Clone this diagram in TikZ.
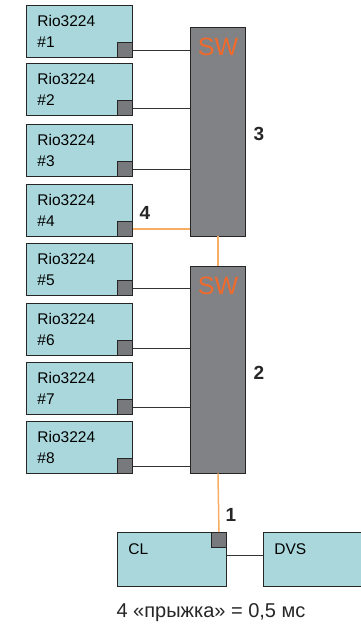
\documentclass[tikz,border=0pt]{standalone}
\usepackage{fontspec}
\setmainfont{Liberation Sans}
\usepackage{xcolor}
\usetikzlibrary{positioning,calc}

\definecolor{boxteal}{HTML}{AAD7DB}
\definecolor{swgray}{HTML}{808285}
\definecolor{portgray}{HTML}{77797C}
\definecolor{hoporange}{HTML}{F8AD64}
\definecolor{swtext}{HTML}{F26A2B}

\tikzset{
  unit/.style={draw=black!85, fill=boxteal, line width=0.9pt, minimum width=106pt, minimum height=52pt,
    text width=84pt, inner xsep=11pt, align=left, font=\fontsize{15.5}{21.5}\selectfont},
  port/.style={draw=black!85, fill=portgray, line width=0.9pt, minimum size=15pt, inner sep=0pt},
  switch/.style={draw=black!85, fill=swgray, line width=0.9pt, minimum width=55pt},
  hops/.style={font=\fontsize{19}{19}\selectfont\bfseries, text=black!85},
  cable/.style={draw=black!80, line width=0.8pt},
  hop/.style={draw=hoporange, line width=1.5pt}
}

\begin{document}
\begin{tikzpicture}[x=1pt, y=-1pt]
\useasboundingbox (0,0) rectangle (360,630);

% Rio units with their ports
\foreach \i/\top in {1/5, 2/63, 3/124, 4/184, 5/243, 6/303, 7/362, 8/421} {
  \node[unit, anchor=north west] (rio\i) at (26,\top) {Rio3224\\\#\i};
  \node[port, anchor=south east] (p\i) at (rio\i.south east) {};
}

% Switches
\node[switch, minimum height=209pt] (sw1) at (218,131.5) {};
\node[switch, minimum height=207pt] (sw2) at (218,369.5) {};
\node[text=swtext, font=\fontsize{25}{25}\selectfont, anchor=north] (swl1) at ([yshift=-8pt]sw1.north) {SW};
\node[text=swtext, font=\fontsize{25}{25}\selectfont, anchor=north] (swl2) at ([yshift=-8pt]sw2.north) {SW};

% Console and DVS
\node[unit, minimum width=109pt, minimum height=54pt, anchor=north west, text width=87pt] (cl) at (117,532) {CL\\~};
\node[port, anchor=north east] (clp) at (cl.north east) {};
\node[unit, minimum width=107pt, minimum height=54pt, anchor=north west, text width=85pt] (dvs) at (263,532) {DVS\\~};

% Cables
\foreach \i in {1,2,3} \draw[cable] (p\i.east) -- (p\i.east -| sw1.west);
\draw[hop] (p4.east) -- (p4.east -| sw1.west);
\foreach \i in {5,6,7,8} \draw[cable] (p\i.east) -- (p\i.east -| sw2.west);
\draw[hop] (sw1.south) -- (sw2.north);
\draw[hop] (sw2.south) -- (clp.north);
\draw[cable] ([yshift=4pt]cl.east) -- ([yshift=4pt]dvs.west);

% Hop counts
\node[hops] (h4) at (145,213) {4};
\node[hops] (h3) at (259,134) {3};
\node[hops] (h2) at (259,373) {2};
\node[hops] (h1) at (231,515) {1};

\node[font=\fontsize{20}{20}\selectfont, text=black!85] (note) at (211,613) {4 «прыжка» = 0,5 мс};
\end{tikzpicture}
\end{document}
